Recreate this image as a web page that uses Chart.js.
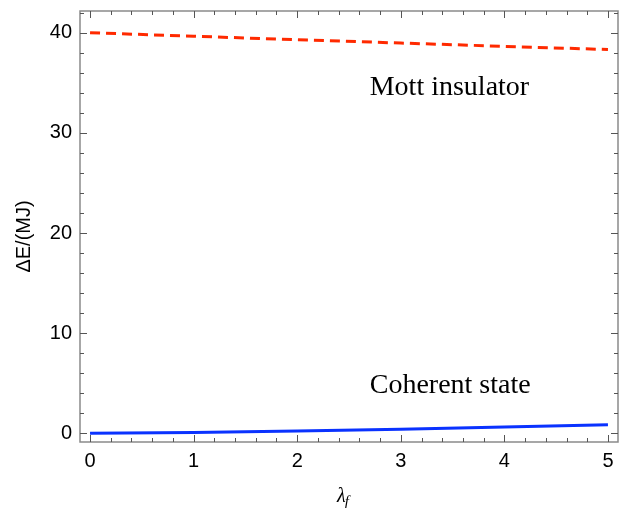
<!DOCTYPE html>
<html lang="en">
<head>
  <meta charset="UTF-8" />
  <title>Energy gap vs lambda_f</title>
  <script src="https://cdn.jsdelivr.net/npm/chart.js"></script>
  <style>
    body { margin: 0; padding: 0; background: #ffffff; }
    .chart-container { position: relative; width: 625px; height: 508px; }
  </style>
</head>
<body>
  <div class="chart-container">
    <canvas id="gapChart"></canvas>
  </div>

  <script>
    // data
    const lambdaValues = [0, 1, 2, 3, 4, 5];
    const mottValues = [40, 39.65, 39.3, 38.97, 38.64, 38.32];
    const coherentValues = [0, 0.08, 0.22, 0.4, 0.63, 0.86];

    const xTicks = [0, 1, 2, 3, 4, 5];
    const yTicks = [0, 10, 20, 30, 40];

    // text labels placed in data coordinates (left edge, baseline)
    const labelTexts = ['Mott insulator', 'Coherent state'];
    const labelX = [2.7, 2.7];
    const labelY = [33.78, 4.0];

    // frame + inward ticks on all four sides, plus text
    const framePlugin = {
      id: 'frame',
      afterDatasetsDraw(chart) {
        const { ctx, chartArea: a, scales } = chart;
        const xs = scales.x, ys = scales.y;
        ctx.save();
        ctx.strokeStyle = '#8a8a8a';
        ctx.lineWidth = 1.5;
        ctx.strokeRect(a.left, a.top, a.right - a.left, a.bottom - a.top);

        ctx.strokeStyle = '#555';
        ctx.lineWidth = 1;
        // x ticks every 0.2
        for (let i = 0; i <= 25; i++) {
          const v = i * 0.2;
          const px = Math.round(xs.getPixelForValue(v)) + 0.5;
          const len = (i % 5 === 0) ? 7 : 4;
          ctx.beginPath();
          ctx.moveTo(px, a.bottom); ctx.lineTo(px, a.bottom - len);
          ctx.moveTo(px, a.top); ctx.lineTo(px, a.top + len);
          ctx.stroke();
        }
        // y ticks every 2
        for (let i = 0; i <= 21; i++) {
          const v = i * 2;
          const py = Math.round(ys.getPixelForValue(v)) + 0.5;
          if (py < a.top) continue;
          const len = (i % 5 === 0) ? 7 : 4;
          ctx.beginPath();
          ctx.moveTo(a.left, py); ctx.lineTo(a.left + len, py);
          ctx.moveTo(a.right, py); ctx.lineTo(a.right - len, py);
          ctx.stroke();
        }

        // annotations
        ctx.fillStyle = '#000';
        ctx.font = '28px "Liberation Serif", "Times New Roman", serif';
        ctx.textAlign = 'left';
        ctx.textBaseline = 'alphabetic';
        labelTexts.forEach((t, i) => {
          ctx.fillText(t, xs.getPixelForValue(labelX[i]), ys.getPixelForValue(labelY[i]));
        });

        // y axis title
        ctx.save();
        ctx.translate(30, (a.top + a.bottom) / 2 + 10);
        ctx.rotate(-Math.PI / 2);
        ctx.font = '20px "Liberation Sans", Arial, sans-serif';
        ctx.textAlign = 'center';
        ctx.textBaseline = 'alphabetic';
        ctx.fillText('ΔE/(MJ)', 0, 0);
        ctx.restore();

        // x axis title: lambda with subscript f
        ctx.font = 'italic 20px "Liberation Serif", "Times New Roman", serif';
        ctx.textAlign = 'left';
        const lx = 337, ly = 502;
        ctx.fillText('λ', lx, ly);
        const w = ctx.measureText('λ').width;
        ctx.font = 'italic 15px "Liberation Serif", "Times New Roman", serif';
        ctx.fillText('f', lx + w - 1, ly + 4);
        ctx.restore();
      }
    };

    const ctx = document.getElementById('gapChart').getContext('2d');
    new Chart(ctx, {
      type: 'line',
      data: {
        datasets: [
          {
            label: 'Mott insulator',
            data: lambdaValues.map((x, i) => ({ x: x, y: mottValues[i] })),
            borderColor: '#ff2a00',
            borderWidth: 3,
            borderDash: [10, 6],
            pointRadius: 0,
            fill: false
          },
          {
            label: 'Coherent state',
            data: lambdaValues.map((x, i) => ({ x: x, y: coherentValues[i] })),
            borderColor: '#0a32ff',
            borderWidth: 3,
            pointRadius: 0,
            fill: false
          }
        ]
      },
      options: {
        responsive: true,
        maintainAspectRatio: false,
        animation: false,
        layout: { padding: { top: 11, right: 7, left: 0, bottom: 0 } },
        plugins: {
          legend: { display: false },
          tooltip: { enabled: false }
        },
        scales: {
          x: {
            type: 'linear',
            min: -0.097,
            max: 5.097,
            border: { display: false },
            grid: { display: false, drawTicks: false },
            afterBuildTicks: (scale) => { scale.ticks = xTicks.map(v => ({ value: v })); },
            afterFit: (scale) => {
              scale.height = 66;
              scale.paddingLeft = 0; scale.paddingRight = 0;
            },
            ticks: {
              padding: 7,
              maxRotation: 0,
              color: '#000',
              font: { family: '"Liberation Sans", Arial, sans-serif', size: 20 }
            }
          },
          y: {
            type: 'linear',
            min: -0.87,
            max: 42.17,
            border: { display: false },
            grid: { display: false, drawTicks: false },
            afterBuildTicks: (scale) => { scale.ticks = yTicks.map(v => ({ value: v })); },
            afterFit: (scale) => {
              scale.width = 80;
              scale.paddingTop = 0; scale.paddingBottom = 0;
            },
            ticks: {
              padding: 8,
              color: '#000',
              font: { family: '"Liberation Sans", Arial, sans-serif', size: 20 }
            }
          }
        }
      },
      plugins: [framePlugin]
    });
  </script>
</body>
</html>
